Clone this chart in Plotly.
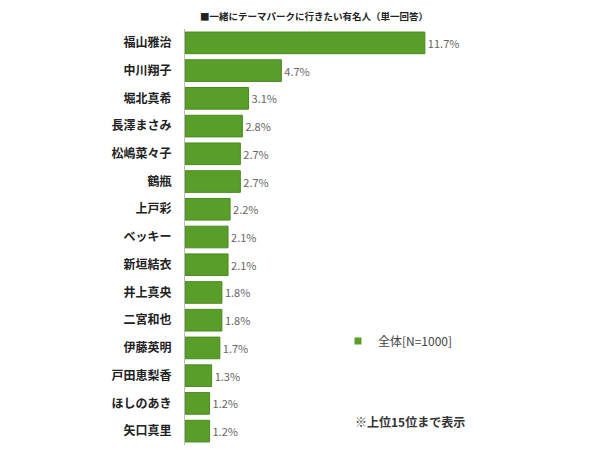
import plotly.graph_objects as go

# 一緒にテーマパークに行きたい有名人（上位15位）
names = ['福山雅治', '中川翔子', '堀北真希', '長澤まさみ', '松嶋菜々子',
         '鶴瓶', '上戸彩', 'ベッキー', '新垣結衣', '井上真央',
         '二宮和也', '伊藤英明', '戸田恵梨香', 'ほしのあき', '矢口真里']
values = [11.7, 4.7, 3.1, 2.8, 2.7,
          2.7, 2.2, 2.1, 2.1, 1.8,
          1.8, 1.7, 1.3, 1.2, 1.2]
series_name = '全体[N=1000]'
title_text = '■一緒にテーマパークに行きたい有名人（単一回答）'
note_text = '※上位15位まで表示'

bar_color = '#5a9e2a'
font_family = 'Noto Sans CJK JP'

fig = go.Figure()
fig.add_trace(go.Bar(
    x=values,
    y=names,
    orientation='h',
    name=series_name,
    showlegend=False,
    marker=dict(color=bar_color, line=dict(color='#4a8a1e', width=1)),
    text=[f'{v:.1f}%' for v in values],
    textposition='outside',
    textfont=dict(size=11, color='#666666'),
    cliponaxis=False,
))
# 凡例用（小さい四角マーカー）
fig.add_trace(go.Scatter(
    x=[None], y=[None], mode='markers', name=series_name,
    marker=dict(symbol='square', size=7, color=bar_color),
))

# ページ本体の余白(8px)を差し引いたサイズ
fig.update_layout(
    width=592, height=442,
    title=dict(text=title_text, x=0.517, xanchor='center', y=0.98, yanchor='middle',
               font=dict(size=9.5, color='#222222', family=font_family, weight='bold')),
    font=dict(family=font_family),
    plot_bgcolor='white',
    paper_bgcolor='white',
    bargap=0.22,
    margin=dict(l=177, r=128, t=21, b=5),
    showlegend=True,
    legend=dict(x=0.533, y=0.25, xanchor='left', yanchor='middle',
                font=dict(size=12, color='#444444'), itemwidth=30,
                bgcolor='rgba(0,0,0,0)'),
    annotations=[dict(text=note_text, xref='paper', yref='paper', x=0.585, y=0.056,
                      xanchor='left', yanchor='middle', showarrow=False,
                      font=dict(size=12, color='#333333', weight='bold'))],
)

fig.update_xaxes(range=[0, 14], visible=False, showgrid=False)
fig.update_yaxes(autorange='reversed', showgrid=False, showline=True, linecolor='#bbbbbb',
                 linewidth=1, ticks='', ticklabelstandoff=10, automargin=False,
                 tickfont=dict(size=12, color='#222222', weight='bold'))

fig.write_html('out.html')
